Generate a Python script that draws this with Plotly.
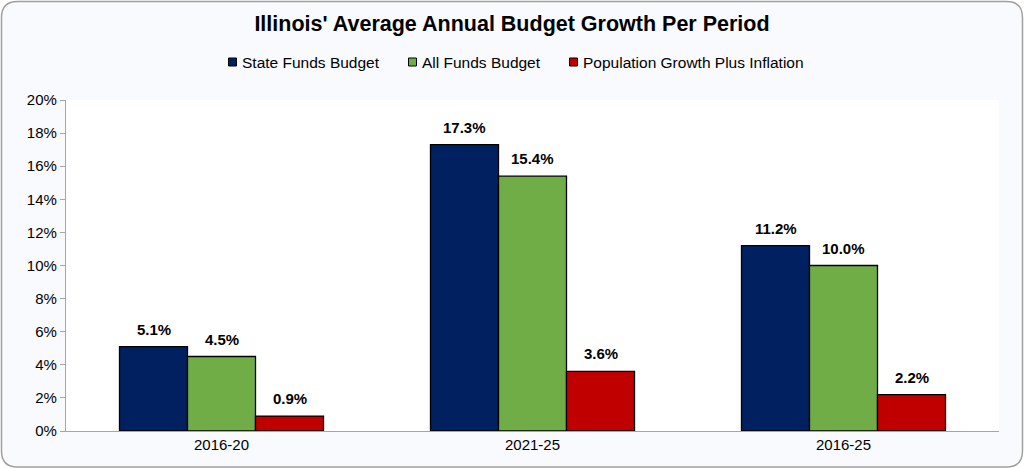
import plotly.graph_objects as go

periods = ['2016-20', '2021-25', '2016-25']
state_funds = [5.1, 17.3, 11.2]
all_funds = [4.5, 15.4, 10.0]
pop_inflation = [0.9, 3.6, 2.2]
y_ticks = [0, 2, 4, 6, 8, 10, 12, 14, 16, 18, 20]

W, H = 1024, 469
L, R, T, B = 66, 25, 100, 38
pw, ph = W - L - R, H - T - B
bar_px = 68


def px(x):
    return (x - L) / pw


def py(y):
    return (H - B - y) / ph


# rounded chart border, pixel corners converted to paper coords
x0, x1, y0, y1, rad = 1.5, 1022.5, 1.5, 467, 16
border = (
    f"M {px(x0 + rad)},{py(y0)} L {px(x1 - rad)},{py(y0)} "
    f"Q {px(x1)},{py(y0)} {px(x1)},{py(y0 + rad)} "
    f"L {px(x1)},{py(y1 - rad)} Q {px(x1)},{py(y1)} {px(x1 - rad)},{py(y1)} "
    f"L {px(x0 + rad)},{py(y1)} Q {px(x0)},{py(y1)} {px(x0)},{py(y1 - rad)} "
    f"L {px(x0)},{py(y0 + rad)} Q {px(x0)},{py(y0)} {px(x0 + rad)},{py(y0)} Z"
)

series = [
    ('State Funds Budget', state_funds, '#002060'),
    ('All Funds Budget', all_funds, '#70AD47'),
    ('Population Growth Plus Inflation', pop_inflation, '#C00000'),
]
legend_x = [228.5, 408.5, 569.5]  # left edge of each legend swatch, px
legend_y = 62

shapes = [
    dict(type='path', xref='paper', yref='paper', path=border,
         fillcolor='#F8FAFE', line=dict(color='#A0A0A0', width=1.5), layer='below'),
    dict(type='rect', xref='paper', yref='paper', x0=0, x1=1, y0=0, y1=1,
         fillcolor='white', line=dict(width=0), layer='below'),
]

fig = go.Figure()
notes = []
for i, (name, vals, color) in enumerate(series):
    fig.add_trace(go.Bar(
        name=name, x=periods, y=vals,
        marker=dict(color=color, line=dict(color='black', width=1.3)),
    ))
    for p, v in zip(periods, vals):
        notes.append(dict(
            x=p, y=v, text=f'<b>{v:.1f}%</b>', showarrow=False,
            xshift=(i - 1) * bar_px, yshift=7, yanchor='bottom',
            font=dict(family='Liberation Sans', size=15, color='black'),
        ))
    # hand-made legend entry
    lx = legend_x[i]
    shapes.append(dict(type='rect', xref='paper', yref='paper',
                       x0=px(lx), x1=px(lx + 8), y0=py(legend_y - 4), y1=py(legend_y + 4),
                       fillcolor=color, line=dict(color='black', width=1)))
    notes.append(dict(x=px(lx + 11), y=py(legend_y), xref='paper', yref='paper',
                      text=name, showarrow=False, xanchor='left', yanchor='middle',
                      font=dict(family='Liberation Sans', size=15.5, color='black')))

fig.update_layout(
    width=W, height=H,
    margin=dict(l=L, r=R, t=T, b=B),
    paper_bgcolor='white',
    plot_bgcolor='white',
    barmode='group', bargap=0.344, bargroupgap=0,
    font=dict(family='Liberation Sans', size=15, color='black'),
    title=dict(text="<b>Illinois' Average Annual Budget Growth Per Period</b>",
               x=0.5, xanchor='center', y=1 - 23 / H, yanchor='middle',
               font=dict(size=21.5, color='black')),
    showlegend=False,
    annotations=notes,
    shapes=shapes,
)

fig.update_xaxes(showline=True, linecolor='#A6A6A6', linewidth=1.3, ticks='',
                 tickfont=dict(size=15), showgrid=False)
fig.update_yaxes(range=[0, 20], tickvals=y_ticks, ticktext=[f'{t}%' for t in y_ticks],
                 showline=True, linecolor='#A6A6A6', linewidth=1.3, ticks='outside',
                 ticklen=5, tickcolor='#A6A6A6', showgrid=False, zeroline=False,
                 tickfont=dict(size=15))

fig.write_html('out.html', config={'displayModeBar': False},
               post_script="document.body.style.margin='0';")
